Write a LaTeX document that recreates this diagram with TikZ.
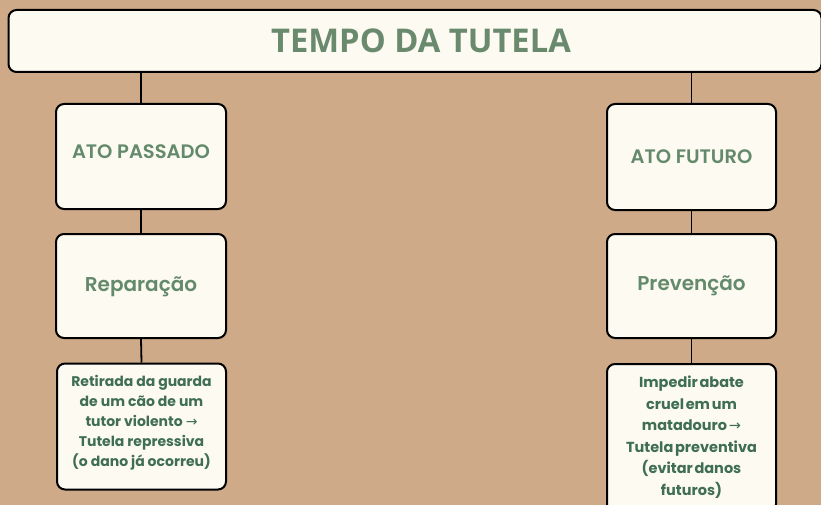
\documentclass[tikz,border=0pt]{standalone}
\usepackage{fontspec}
\setmainfont{Poppins}
\newfontfamily\titlefont{Open Sans Bold}
\newfontfamily\boldfont{Poppins Bold}
\newfontfamily\semifont{Poppins SemiBold}
\newfontfamily\arrowfont{DejaVu Sans}
\newcommand{\rarr}{{\arrowfont →}}
\newcommand{\tightsp}{\spaceskip=0.12em plus 0.05em minus 0.02em\relax}
\definecolor{bg}{HTML}{CFAA88}
\definecolor{boxfill}{HTML}{FDFAF1}
\definecolor{titlecol}{HTML}{6A8A6E}
\definecolor{midcol}{HTML}{648A6C}
\definecolor{smallcol}{HTML}{3F6E55}
\tikzset{
  box/.style={draw=black, line width=2pt, fill=boxfill, rounded corners=8pt, align=center, inner sep=0pt},
  conn/.style={draw=black, line width=1.8pt},
}
\begin{document}
\begin{tikzpicture}[x=1pt,y=-1pt]
\fill[bg] (0,0) rectangle (821,505);
\useasboundingbox (0,0) rectangle (821,505);
% title
\node[box, minimum width=813pt, minimum height=62pt] (title) at (415,41) {};
\node[text=titlecol, font=\titlefont\fontsize{32.7}{38}\selectfont] (titlet) at (421,41) {TEMPO DA TUTELA};
% level 1
\node[box, minimum width=170pt, minimum height=105pt] (passado) at (141,156.5) {};
\node[text=midcol, font=\semifont\fontsize{19.5}{24}\selectfont] (passadot) at (141,152) {ATO PASSADO};
\node[box, minimum width=169pt, minimum height=106pt] (futuro) at (691.5,157) {};
\node[text=midcol, font=\semifont\fontsize{19.5}{24}\selectfont] (futurot) at (691.5,157) {ATO FUTURO};
% level 2
\node[box, minimum width=170pt, minimum height=104pt] (reparacao) at (141,286) {};
\node[text=midcol, font=\semifont\fontsize{20}{24}\selectfont] (reparacaot) at (141,287) {Reparação};
\node[box, minimum width=169pt, minimum height=104pt] (prevencao) at (691.5,286) {};
\node[text=midcol, font=\semifont\fontsize{20}{24}\selectfont] (prevencaot) at (691.5,286) {Prevenção};
% level 3
\node[box, minimum width=169pt, minimum height=126pt] (retirada) at (141.5,426.5) {};
\node[text=smallcol, align=center, font=\boldfont\fontsize{14}{20}\selectfont] (retiradat) at (141.5,423) {Retirada da guarda\\de um cão de um\\tutor violento \rarr\\Tutela repressiva\\(o dano já ocorreu)};
\node[box, minimum width=169pt, minimum height=148pt] (impedir) at (691.5,438) {};
\node[text=smallcol, align=center, font=\boldfont\fontsize{14.5}{21.5}\selectfont\tightsp] (impedirt) at (691.5,437) {Impedir abate\\cruel em um\\matadouro \rarr\\Tutela preventiva\\(evitar danos\\futuros)};
% connectors
\draw[conn] (title.south -| passado.north) -- (passado.north);
\draw[conn] (title.south -| futuro.north) -- (futuro.north);
\draw[conn] (passado.south) -- (reparacao.north);
\draw[conn] (futuro.south) -- (prevencao.north);
\draw[conn] (reparacao.south) -- (retirada.north);
\draw[conn] (prevencao.south) -- (impedir.north);
\end{tikzpicture}
\end{document}
